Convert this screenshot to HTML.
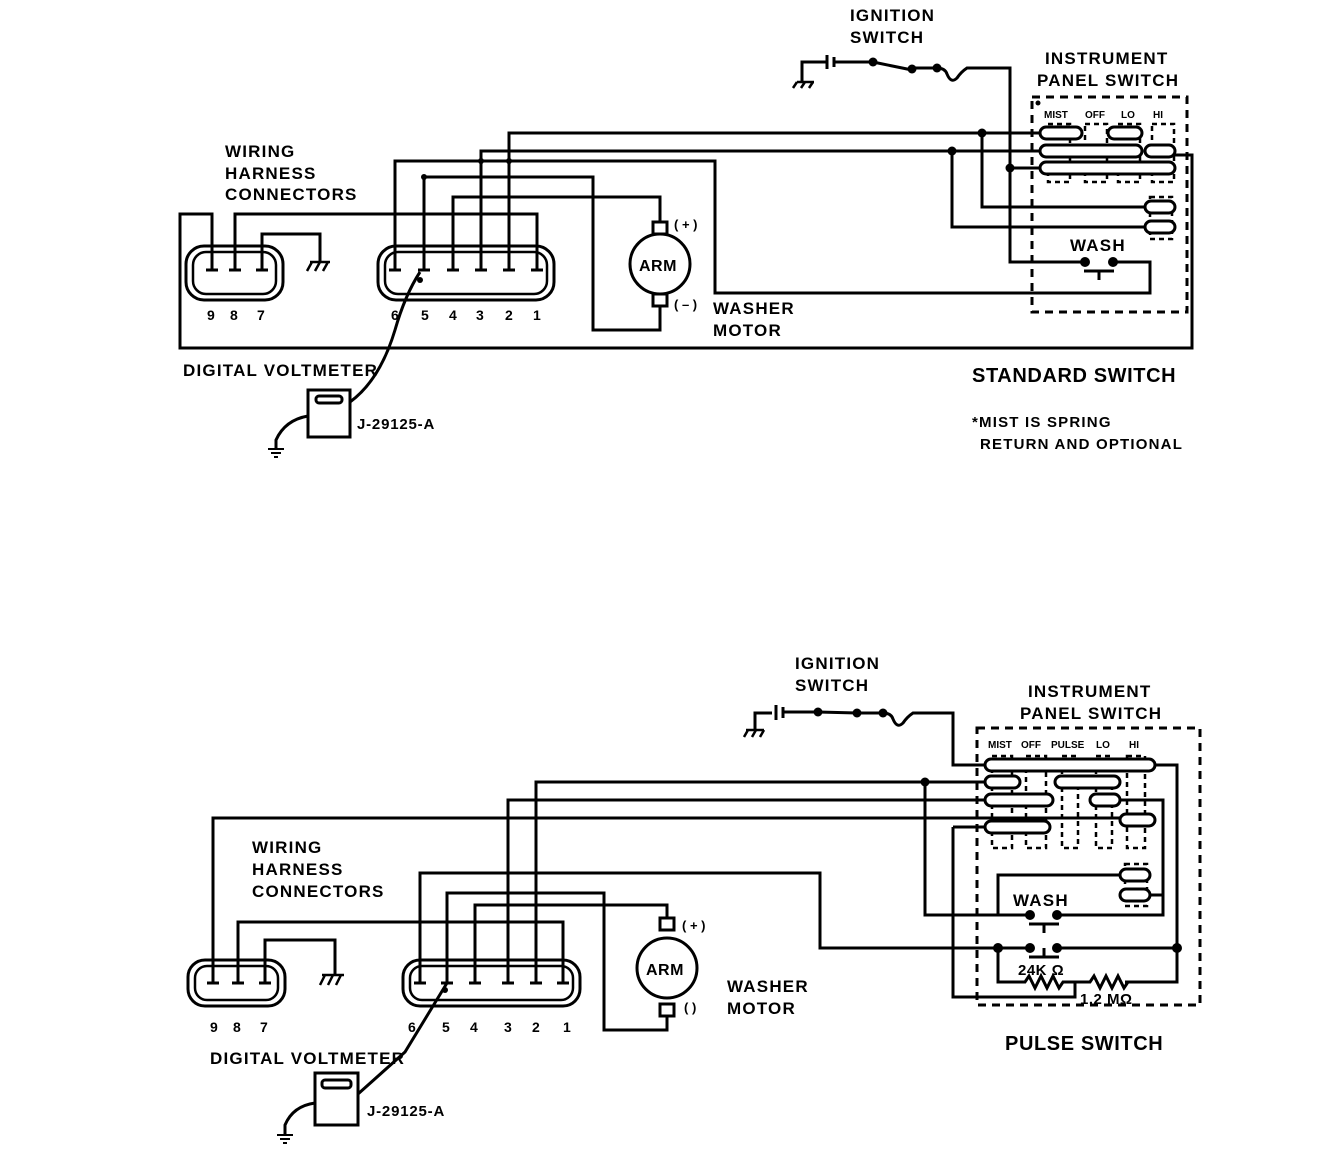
<!DOCTYPE html>
<html><head><meta charset="utf-8"><style>
html,body{margin:0;padding:0;background:#fff;}
svg{display:block;}
text{font-family:"Liberation Sans",Arial,sans-serif;font-weight:bold;fill:#000;}
</style></head><body>
<svg width="1328" height="1154" viewBox="0 0 1328 1154" xmlns="http://www.w3.org/2000/svg">
<g fill="none" stroke="#000" stroke-width="3" stroke-linejoin="miter">
<path d="M802 82 V62 H826"/>
<path d="M797 82 H814 M797 82 l-4 6 M805 82 l-4 6 M813 82 l-4 6" stroke-width="2.5"/>
<path d="M827 55 V69 M834 57 V67" stroke-width="3"/>
<path d="M834 62 H873"/>
<path d="M873 62 L912 70"/>
<path d="M912 68 H937 q8 0 10 6 q4 10 10 4 q4 -6 10 -10 H1010 V262 H1085"/>
<path d="M212 270 V214 H180 V348 H1192 V155 H1172"/>
<path d="M235 270 V214 H537 V270"/>
<path d="M262 270 V234 H320 V262"/>
<path d="M310 262 H330 M312 262 l-5 9 M320 262 l-5 9 M328 262 l-5 9" stroke-width="2.5"/>
<path d="M395 270 V161 H715 V293 H1150 V262 H1113"/>
<path d="M424 270 V177 H593 V330 H660 V306"/>
<path d="M453 270 V197 H660 V222"/>
<path d="M481 270 V151 H1040"/>
<path d="M509 270 V133 H1040"/>
<path d="M982 133 V207 H1145"/>
<path d="M952 151 V227 H1145"/>
<path d="M1010 168 H1040"/>
<path d="M206 270 H218 M229 270 H241 M256 270 H268 M389 270 H401 M418 270 H430 M447 270 H459 M475 270 H487 M503 270 H515 M531 270 H543"/>
<rect x="186" y="246" width="97" height="54" rx="18"/>
<rect x="193" y="252" width="83" height="42" rx="13" stroke-width="2.5"/>
<rect x="378" y="246" width="176" height="54" rx="18"/>
<rect x="385" y="252" width="162" height="42" rx="13" stroke-width="2.5"/>
<circle cx="660" cy="264" r="30"/>
<rect x="653" y="222" width="14" height="12" fill="#fff"/>
<rect x="653" y="294" width="14" height="12" fill="#fff"/>
<rect x="308" y="390" width="42" height="47"/>
<rect x="316" y="396" width="26" height="7" rx="3"/>
<path d="M350 402 Q380 380 395 330 Q405 295 420 272"/>
<path d="M308 416 Q285 420 276 440 V448"/>
<path d="M268 449 H284 M271 453 H281 M274 457 H278" stroke-width="2"/>
<rect x="1032" y="97" width="155" height="215" stroke-dasharray="8 6"/>
<g stroke-width="2.5" stroke-dasharray="5 4">
<rect x="1048" y="124" width="22" height="58"/><rect x="1085" y="124" width="22" height="58"/>
<rect x="1118" y="124" width="22" height="58"/><rect x="1152" y="124" width="22" height="58"/>
<rect x="1150" y="197" width="22" height="42"/>
</g>
<g fill="#fff">
<rect x="1040" y="127" width="42" height="12" rx="6"/>
<rect x="1108" y="127" width="34" height="12" rx="6"/>
<rect x="1040" y="145" width="102" height="12" rx="6"/>
<rect x="1145" y="145" width="30" height="12" rx="6"/>
<rect x="1040" y="162" width="135" height="12" rx="6"/>
<rect x="1145" y="201" width="30" height="12" rx="6"/>
<rect x="1145" y="221" width="30" height="12" rx="6"/>
</g>
<path d="M1084 271 H1114 M1099 271 V280"/>
<path d="M755 730 V713 H772"/>
<path d="M746 730 H764 M748 730 l-4 7 M756 730 l-4 7 M764 730 l-4 7" stroke-width="2.5"/>
<path d="M776 705 V720 M783 707 V718"/>
<path d="M783 712 H818 L857 713 H883 q8 0 10 6 q4 10 10 4 q4 -6 10 -10 H953 V765 H985"/>
<path d="M1155 765 H1177 V982 H1125"/>
<path d="M213 983 V818 H1120"/>
<path d="M238 983 V922 H563 V983"/>
<path d="M265 983 V940 H335 V975"/>
<path d="M322 975 H344 M325 975 l-5 10 M333 975 l-5 10 M341 975 l-5 10" stroke-width="2.5"/>
<path d="M420 983 V873 H820 V948 H1030"/>
<path d="M447 983 V893 H604 V1030 H667 V1015"/>
<path d="M475 983 V905 H667 V918"/>
<path d="M508 983 V800 H985"/>
<path d="M536 983 V782 H985"/>
<path d="M925 782 V915 H1030"/>
<path d="M953 827 H985 M953 827 V997 H1075 V982"/>
<path d="M1120 800 H1163 V915 H1057"/>
<path d="M1150 895 H1163"/>
<path d="M1120 875 H998 V915"/>
<path d="M1057 948 H1177"/>
<path d="M998 948 V982 H1025 l4 -6 l6 12 l6 -12 l6 12 l6 -12 l6 12 l4 -6 H1090 l4 -6 l6 12 l6 -12 l6 12 l6 -12 l6 12 l4 -6"/>
<path d="M1029 924 H1059 M1044 924 V933"/>
<path d="M1029 957 H1059 M1044 957 V948" />
<path d="M207 983 H219 M232 983 H244 M259 983 H271 M414 983 H426 M441 983 H453 M469 983 H481 M502 983 H514 M530 983 H542 M557 983 H569"/>
<rect x="188" y="960" width="97" height="46" rx="17"/>
<rect x="195" y="966" width="83" height="34" rx="12" stroke-width="2.5"/>
<rect x="403" y="960" width="177" height="46" rx="17"/>
<rect x="410" y="966" width="163" height="34" rx="12" stroke-width="2.5"/>
<circle cx="667" cy="968" r="30"/>
<rect x="660" y="918" width="14" height="12" fill="#fff"/>
<rect x="660" y="1004" width="14" height="12" fill="#fff"/>
<rect x="315" y="1073" width="43" height="52"/>
<rect x="322" y="1080" width="29" height="8" rx="3"/>
<path d="M358 1094 L405 1052 L447 983"/>
<path d="M315 1103 Q293 1106 285 1125 V1134"/>
<path d="M277 1135 H293 M280 1139 H290 M283 1143 H287" stroke-width="2"/>
<rect x="977" y="728" width="223" height="277" stroke-dasharray="8 6"/>
<g stroke-width="2.5" stroke-dasharray="5 4">
<rect x="992" y="756" width="20" height="92"/><rect x="1026" y="756" width="20" height="92"/>
<rect x="1062" y="756" width="16" height="92"/><rect x="1096" y="756" width="16" height="92"/>
<rect x="1127" y="756" width="18" height="92"/><rect x="1125" y="864" width="22" height="42"/>
</g>
<g fill="#fff">
<rect x="985" y="759" width="170" height="12" rx="6"/>
<rect x="985" y="776" width="35" height="12" rx="6"/>
<rect x="1055" y="776" width="65" height="12" rx="6"/>
<rect x="985" y="794" width="68" height="12" rx="6"/>
<rect x="1090" y="794" width="30" height="12" rx="6"/>
<rect x="1120" y="814" width="35" height="12" rx="6"/>
<rect x="985" y="821" width="65" height="12" rx="6"/>
<rect x="1120" y="869" width="30" height="12" rx="6"/>
<rect x="1120" y="889" width="30" height="12" rx="6"/>
</g>
</g>
<g fill="#000">
<circle cx="873" cy="62" r="4.5"/><circle cx="912" cy="69" r="4.5"/><circle cx="937" cy="68" r="4.5"/>
<circle cx="982" cy="133" r="4.5"/><circle cx="952" cy="151" r="4.5"/><circle cx="1010" cy="168" r="4.5"/>
<circle cx="1085" cy="262" r="5"/><circle cx="1113" cy="262" r="5"/>
<circle cx="424" cy="177" r="3"/><circle cx="509" cy="161" r="3"/><circle cx="481" cy="161" r="3"/>
<circle cx="1038" cy="103" r="2.5"/>
<circle cx="818" cy="712" r="4.5"/><circle cx="857" cy="713" r="4.5"/><circle cx="883" cy="713" r="4.5"/>
<circle cx="925" cy="782" r="4.5"/><circle cx="1030" cy="915" r="5"/><circle cx="1057" cy="915" r="5"/>
<circle cx="998" cy="948" r="5"/><circle cx="1030" cy="948" r="5"/><circle cx="1057" cy="948" r="5"/><circle cx="1177" cy="948" r="5"/>
<circle cx="420" cy="280" r="3"/><circle cx="445" cy="990" r="3"/>
</g>
<g font-size="17" letter-spacing="1.2">
<text x="850" y="21">IGNITION</text><text x="850" y="43">SWITCH</text>
<text x="1045" y="64">INSTRUMENT</text><text x="1037" y="86">PANEL SWITCH</text>
<text x="225" y="157">WIRING</text><text x="225" y="179">HARNESS</text><text x="225" y="200">CONNECTORS</text>
<text x="639" y="271" font-size="16" letter-spacing="0.5">ARM</text>
<text x="674" y="229" font-size="13" letter-spacing="0">( + )</text><text x="674" y="309" font-size="13" letter-spacing="0">( – )</text>
<text x="713" y="314">WASHER</text><text x="713" y="336">MOTOR</text>
<text x="1070" y="251">WASH</text>
<text x="183" y="376">DIGITAL VOLTMETER</text>
<text x="357" y="429" font-size="15" letter-spacing="0.8">J-29125-A</text>
<text x="972" y="382" font-size="20" font-weight="900" letter-spacing="0.6">STANDARD SWITCH</text>
<text x="972" y="427" font-size="15" letter-spacing="1.2">*MIST IS SPRING</text><text x="980" y="449" font-size="15" letter-spacing="1.2">RETURN AND OPTIONAL</text>
<text x="795" y="669">IGNITION</text><text x="795" y="691">SWITCH</text>
<text x="1028" y="697">INSTRUMENT</text><text x="1020" y="719">PANEL SWITCH</text>
<text x="252" y="853">WIRING</text><text x="252" y="875">HARNESS</text><text x="252" y="897">CONNECTORS</text>
<text x="646" y="975" font-size="16" letter-spacing="0.5">ARM</text>
<text x="682" y="930" font-size="13" letter-spacing="0">( + )</text><text x="684" y="1012" font-size="13" letter-spacing="0">(  )</text>
<text x="727" y="992">WASHER</text><text x="727" y="1014">MOTOR</text>
<text x="1013" y="906">WASH</text>
<text x="1018" y="975" font-size="15" letter-spacing="0.5">24K Ω</text><text x="1080" y="1004" font-size="15" letter-spacing="0.5">1.2 MΩ</text>
<text x="210" y="1064">DIGITAL VOLTMETER</text>
<text x="367" y="1116" font-size="15" letter-spacing="0.8">J-29125-A</text>
<text x="1005" y="1050" font-size="20" font-weight="900" letter-spacing="0.6">PULSE SWITCH</text>
</g>
<g font-size="14">
<text x="207" y="320">9</text><text x="230" y="320">8</text><text x="257" y="320">7</text>
<text x="391" y="320">6</text><text x="421" y="320">5</text><text x="449" y="320">4</text><text x="476" y="320">3</text><text x="505" y="320">2</text><text x="533" y="320">1</text>
<text x="210" y="1032">9</text><text x="233" y="1032">8</text><text x="260" y="1032">7</text>
<text x="408" y="1032">6</text><text x="442" y="1032">5</text><text x="470" y="1032">4</text><text x="504" y="1032">3</text><text x="532" y="1032">2</text><text x="563" y="1032">1</text>
</g>
<g font-size="10">
<text x="1044" y="118">MIST</text><text x="1085" y="118">OFF</text><text x="1121" y="118">LO</text><text x="1153" y="118">HI</text>
<text x="988" y="748">MIST</text><text x="1021" y="748">OFF</text><text x="1051" y="748">PULSE</text><text x="1096" y="748">LO</text><text x="1129" y="748">HI</text>
</g>
</svg>
</body></html>
